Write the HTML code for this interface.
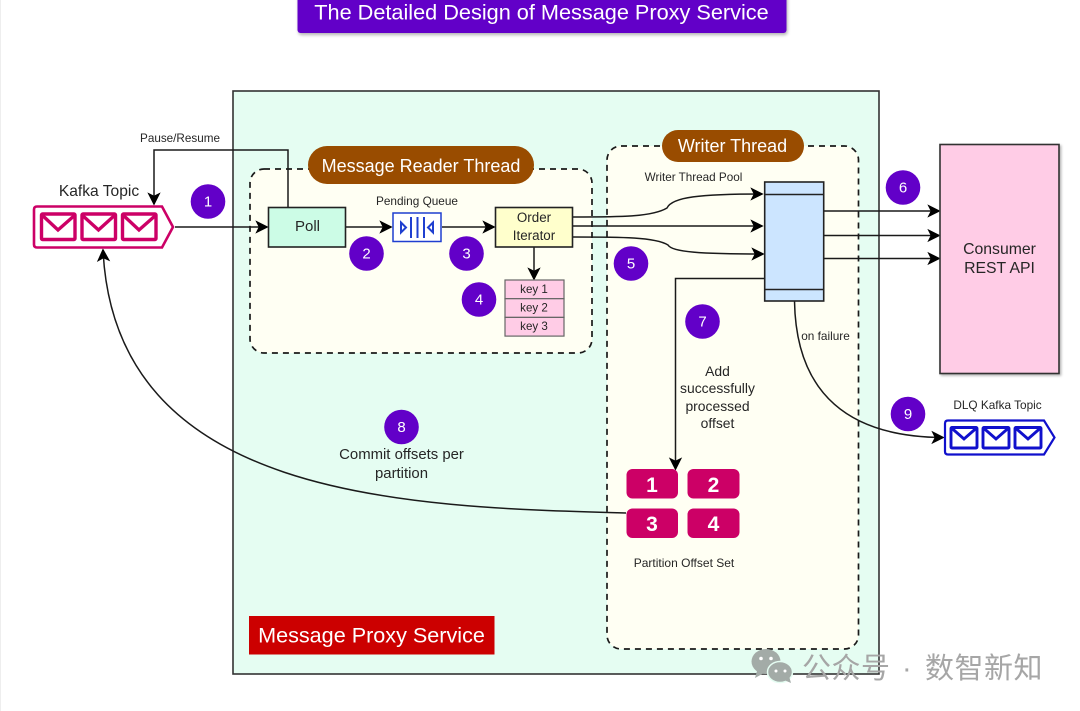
<!DOCTYPE html>
<html>
<head>
<meta charset="utf-8">
<style>
html,body{margin:0;padding:0;background:#fff;width:1080px;height:711px;overflow:hidden}
svg{display:block;filter:blur(0.35px)}
text{font-family:"Liberation Sans","Noto Sans CJK SC",sans-serif;fill:#262626;text-anchor:middle}
.w{fill:#fff}
</style>
</head>
<body>
<svg width="1080" height="711" viewBox="0 0 1080 711" xmlns="http://www.w3.org/2000/svg">
<defs>
<marker id="a" viewBox="0 0 14 14" refX="12" refY="7" markerWidth="14" markerHeight="14" markerUnits="userSpaceOnUse" orient="auto">
<path d="M1 1 L13 7 L1 13 L4 7 Z" fill="#000" stroke="#000" stroke-width="0.6"/>
</marker>
<filter id="s" x="-5%" y="-20%" width="110%" height="150%"><feDropShadow dx="1" dy="2" stdDeviation="1.5" flood-color="#000" flood-opacity="0.3"/></filter>
<filter id="s2" x="-5%" y="-5%" width="112%" height="110%"><feDropShadow dx="1.5" dy="1.5" stdDeviation="1.2" flood-color="#000" flood-opacity="0.3"/></filter>
</defs>

<line x1="0.5" y1="0" x2="0.5" y2="711" stroke="#eee"/>

<!-- Title -->
<rect x="297.5" y="-8" width="489" height="41" rx="3" fill="#6200c8" filter="url(#s)"/>
<text class="w" x="541.5" y="19.5" font-size="21.7">The Detailed Design of Message Proxy Service</text>

<!-- Main -->
<rect x="233" y="91" width="646" height="583" fill="#e5fdf2" stroke="#333" stroke-width="1.6"/>

<!-- Containers -->
<rect x="250" y="169" width="342" height="184" rx="14" fill="#fffff3" stroke="#1a1a1a" stroke-width="1.7" stroke-dasharray="6 5"/>
<rect x="607" y="146" width="251.5" height="503" rx="14" fill="#fffff3" stroke="#1a1a1a" stroke-width="1.7" stroke-dasharray="6 5"/>

<rect x="308" y="146" width="226" height="38" rx="19" fill="#994c00"/>
<text class="w" x="421" y="172" font-size="18">Message Reader Thread</text>
<rect x="662" y="130" width="142" height="32" rx="16" fill="#994c00"/>
<text class="w" x="732.5" y="152" font-size="18">Writer Thread</text>

<!-- Connectors -->
<g fill="none" stroke="#1a1a1a" stroke-width="1.5">
<path d="M288 207 V150 H154 V204" marker-end="url(#a)"/>
<path d="M175 227 H267" marker-end="url(#a)"/>
<path d="M346 227 H391" marker-end="url(#a)"/>
<path d="M442 227 H494" marker-end="url(#a)"/>
<path d="M534 247 V279" marker-end="url(#a)"/>
<path d="M573 217 C620 217 652 217 667 208 C672 197 700 194 762 194" marker-end="url(#a)"/>
<path d="M573 226 H762" marker-end="url(#a)"/>
<path d="M573 237 C620 237 655 237 668 245 C672 252 700 254 763 254" marker-end="url(#a)"/>
<path d="M824 211 H939" marker-end="url(#a)"/>
<path d="M824 235.5 H939" marker-end="url(#a)"/>
<path d="M824 258.5 H939" marker-end="url(#a)"/>
<path d="M764 278.5 H675.5 V469" marker-end="url(#a)"/>
<path d="M794.5 301 C796 395 850 437 943 437.5" marker-end="url(#a)"/>
<path d="M626 513 C400 507 115 498 103 250" marker-end="url(#a)"/>
</g>

<!-- Kafka topic -->
<g fill="none" stroke="#cc0066" stroke-width="2.6">
<path d="M37 206.5 H162 L173 227 L162 247.5 H37 Q34 247.5 34 244.5 V209.5 Q34 206.5 37 206.5 Z"/>
<g stroke-width="3.4">
<rect x="41.5" y="214" width="33.5" height="25.5" rx="1"/>
<path d="M42 215 L58 230 L75 215"/>
<rect x="82" y="214" width="33.5" height="25.5" rx="1"/>
<path d="M82 215 L98.5 230 L115 215"/>
<rect x="122.5" y="214" width="33.5" height="25.5" rx="1"/>
<path d="M123 215 L139 230 L156 215"/>
</g>
</g>
<text x="99" y="196" font-size="15.6">Kafka Topic</text>
<text x="180" y="142" font-size="11.7">Pause/Resume</text>

<!-- Poll -->
<rect x="268.5" y="207.5" width="77" height="39.5" fill="#ccfce6" stroke="#222" stroke-width="1.6"/>
<text x="307.5" y="231" font-size="15">Poll</text>

<!-- Queue -->
<rect x="393" y="213" width="48" height="28.5" fill="#fff" stroke="#1f3fd0" stroke-width="1.5"/>
<g stroke="#1f3fd0" stroke-width="2" fill="none">
<path d="M417.5 217 V238 M411 217 V238 M424 217 V238"/>
<path d="M401 222.5 L406 227.5 L401 232.5 Z"/>
<path d="M433 222.5 L428 227.5 L433 232.5 Z"/>
</g>
<text x="417" y="205" font-size="11.8">Pending Queue</text>

<!-- Order Iterator -->
<rect x="495.5" y="207.5" width="77" height="39.5" fill="#ffffcc" stroke="#222" stroke-width="1.6"/>
<text x="534" y="222" font-size="13.4">Order</text>
<text x="534" y="240" font-size="13.4">Iterator</text>

<!-- Keys -->
<g fill="#ffcce6" stroke="#666" stroke-width="1.2">
<rect x="505" y="280" width="59" height="18.7"/>
<rect x="505" y="298.7" width="59" height="18.7"/>
<rect x="505" y="317.4" width="59" height="18.7"/>
</g>
<text x="534" y="293" font-size="11.6">key 1</text>
<text x="534" y="311.5" font-size="11.6">key 2</text>
<text x="534" y="330" font-size="11.6">key 3</text>

<!-- Writer pool -->
<rect x="764.7" y="182" width="59" height="119" fill="#cce5ff" stroke="#222" stroke-width="1.6"/>
<path d="M764.7 194.5 H823.7 M764.7 289.5 H823.7" stroke="#222" stroke-width="1.5"/>
<text x="693.5" y="181" font-size="11.7">Writer Thread Pool</text>

<text x="825.5" y="340" font-size="11.8">on failure</text>
<text x="717.5" y="376" font-size="13.9">Add</text>
<text x="717.5" y="393" font-size="13.9">successfully</text>
<text x="717.5" y="411" font-size="13.9">processed</text>
<text x="717.5" y="428" font-size="13.9">offset</text>

<!-- Consumer -->
<rect x="940" y="144.5" width="119" height="229" fill="#ffcce6" stroke="#333" stroke-width="1.6" filter="url(#s2)"/>
<text x="999.5" y="254" font-size="15.8">Consumer</text>
<text x="999.5" y="273" font-size="15.8">REST API</text>

<!-- DLQ -->
<g fill="none" stroke="#1010cc" stroke-width="2.2">
<path d="M948 420.5 H1044 L1054.5 437.5 L1044 454.5 H948 Q945 454.5 945 451.5 V423.5 Q945 420.5 948 420.5 Z"/>
<g stroke-width="2.9">
<rect x="951" y="427.5" width="26" height="20.5" rx="1"/>
<path d="M951.5 428 L964 439 L976.5 428"/>
<rect x="983" y="427.5" width="26" height="20.5" rx="1"/>
<path d="M983.5 428 L996 439 L1008.5 428"/>
<rect x="1015" y="427.5" width="26" height="20.5" rx="1"/>
<path d="M1015.5 428 L1028 439 L1040.5 428"/>
</g>
</g>
<text x="997.5" y="409" font-size="11.8">DLQ Kafka Topic</text>

<!-- Offsets -->
<g fill="#cc0066">
<rect x="626.5" y="469" width="51.5" height="29.5" rx="6"/>
<rect x="687.5" y="469" width="52" height="29.5" rx="6"/>
<rect x="626.5" y="508.5" width="51.5" height="29.5" rx="6"/>
<rect x="687.5" y="508.5" width="52" height="29.5" rx="6"/>
</g>
<g font-size="21" font-weight="bold">
<text class="w" x="652" y="492">1</text>
<text class="w" x="713.5" y="492">2</text>
<text class="w" x="652" y="531">3</text>
<text class="w" x="713.5" y="531">4</text>
</g>
<text x="684" y="567" font-size="12">Partition Offset Set</text>

<!-- Commit -->
<text x="401.5" y="459" font-size="14.9">Commit offsets per</text>
<text x="401.5" y="478" font-size="14.9">partition</text>

<!-- Label -->
<rect x="249" y="616" width="245.5" height="38.5" fill="#cc0000"/>
<text class="w" x="371.5" y="642.5" font-size="21.6">Message Proxy Service</text>

<!-- Badges -->
<g fill="#6200c8">
<circle cx="208" cy="201.5" r="17.3"/>
<circle cx="366.5" cy="253.5" r="17.3"/>
<circle cx="466.5" cy="253.5" r="17.3"/>
<circle cx="479" cy="299.5" r="17.3"/>
<circle cx="631" cy="263.5" r="17.3"/>
<circle cx="903" cy="187.5" r="17.3"/>
<circle cx="702.5" cy="321.5" r="17.3"/>
<circle cx="401.5" cy="427" r="17.3"/>
<circle cx="908" cy="414" r="17.3"/>
</g>
<g font-size="15">
<text class="w" x="208" y="206.5">1</text>
<text class="w" x="366.5" y="258.5">2</text>
<text class="w" x="466.5" y="258.5">3</text>
<text class="w" x="479" y="304.5">4</text>
<text class="w" x="631" y="268.5">5</text>
<text class="w" x="903" y="192.5">6</text>
<text class="w" x="702.5" y="326.5">7</text>
<text class="w" x="401.5" y="432">8</text>
<text class="w" x="908" y="419">9</text>
</g>

<!-- Watermark -->
<g fill="#a3aba7">
<ellipse cx="766" cy="661.5" rx="14.5" ry="12.5"/>
<path d="M757 671 L755 678 L764 673 Z"/>
</g>
<g fill="#a3aba7" stroke="#e5fdf2" stroke-width="1.5">
<ellipse cx="780" cy="672" rx="12.5" ry="10.5"/>
</g>
<path d="M784 680 L791 683 L789 676 Z" fill="#a3aba7"/>
<g fill="#fff">
<circle cx="761" cy="658.5" r="1.8"/><circle cx="771" cy="658.5" r="1.8"/>
<circle cx="776" cy="671" r="1.5"/><circle cx="785" cy="671" r="1.5"/>
</g>
<text y="678" font-size="29" style="fill:#a6a6a6;letter-spacing:0.5px;text-anchor:start"><tspan x="802">公众号</tspan><tspan x="902">·</tspan><tspan x="925">数智新知</tspan></text>
</svg>
</body>
</html>
